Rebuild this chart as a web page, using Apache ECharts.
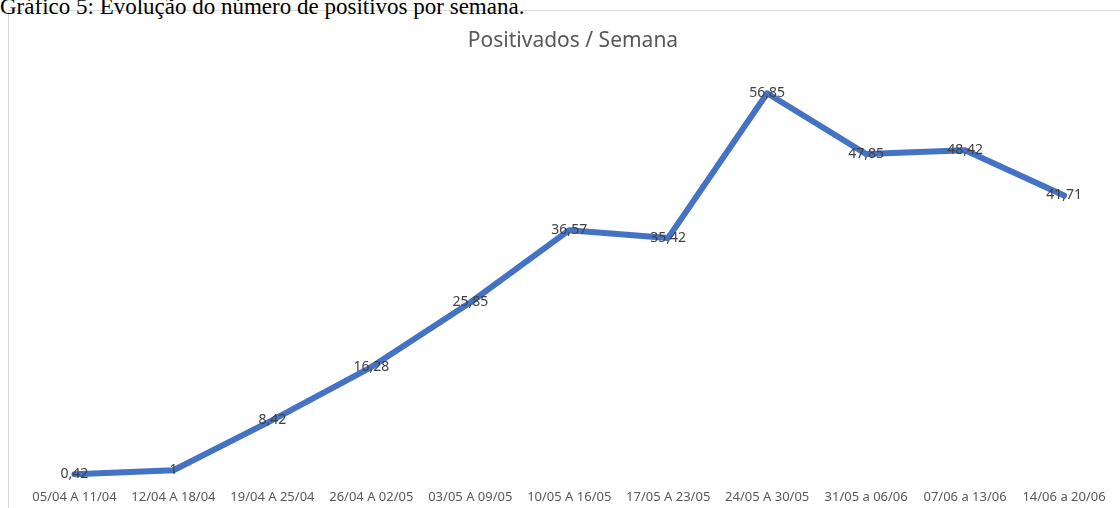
<!DOCTYPE html>
<html>
<head>
<meta charset="utf-8">
<script src="https://cdn.jsdelivr.net/npm/echarts@6/dist/echarts.min.js"></script>
<style>
  body { margin: 0; background: #fff; overflow: hidden; }
  #heading {
    position: absolute; left: 0; top: -5px;
    font-family: "Liberation Serif", serif; font-size: 23px; line-height: 23px; color: #000;
    white-space: nowrap;
  }
  #box {
    position: absolute; left: 8px; top: 10px; width: 1130px; height: 520px;
    border: 1px solid #d9d9d9;
  }
  #chart { position: absolute; left: 0; top: 0; width: 1120px; height: 508px; }
</style>
</head>
<body>
<div id="box"></div>
<div id="heading">Gráfico 5: Evolução do número de positivos por semana.</div>
<div id="chart"></div>
<script>
  const semanas = [
    "05/04 A 11/04", "12/04 A 18/04", "19/04 A 25/04", "26/04 A 02/05",
    "03/05 A 09/05", "10/05 A 16/05", "17/05 A 23/05", "24/05 A 30/05",
    "31/05 a 06/06", "07/06 a 13/06", "14/06 a 20/06"
  ];
  const positivados = [0.42, 1, 8.42, 16.28, 25.85, 36.57, 35.42, 56.85, 47.85, 48.42, 41.71];

  const chart = echarts.init(document.getElementById("chart"));

  const option = {
    animation: false,
    title: {
      text: "Positivados / Semana",
      left: 568,
      textAlign: "center",
      top: 26,
      textStyle: {
        fontFamily: "Noto Sans",
        fontSize: 21,
        fontWeight: "normal",
        color: "#595959"
      }
    },
    grid: {
      left: 25,
      right: 6.5,
      top: 72,
      bottom: 31
    },
    xAxis: {
      type: "category",
      data: semanas,
      axisLine: { show: false },
      axisTick: { show: false },
      axisLabel: {
        interval: 0,
        margin: 14,
        fontFamily: "Noto Sans",
        fontSize: 13,
        color: "#595959"
      }
    },
    yAxis: {
      type: "value",
      min: 0,
      max: 60,
      show: false,
      splitLine: { show: false }
    },
    series: [
      {
        type: "line",
        data: positivados,
        showSymbol: true,
        symbol: "circle",
        symbolSize: 2,
        itemStyle: { color: "rgba(0,0,0,0)", borderWidth: 0 },
        lineStyle: { width: 6, color: "#4472C4", cap: "round", join: "round" },
        label: {
          show: true,
          position: "inside",
          fontFamily: "Noto Sans",
          fontSize: 14,
          color: "#404040",
          formatter: function (p) {
            return String(p.value).replace(".", ",");
          }
        }
      }
    ]
  };

  chart.setOption(option);
</script>
</body>
</html>
